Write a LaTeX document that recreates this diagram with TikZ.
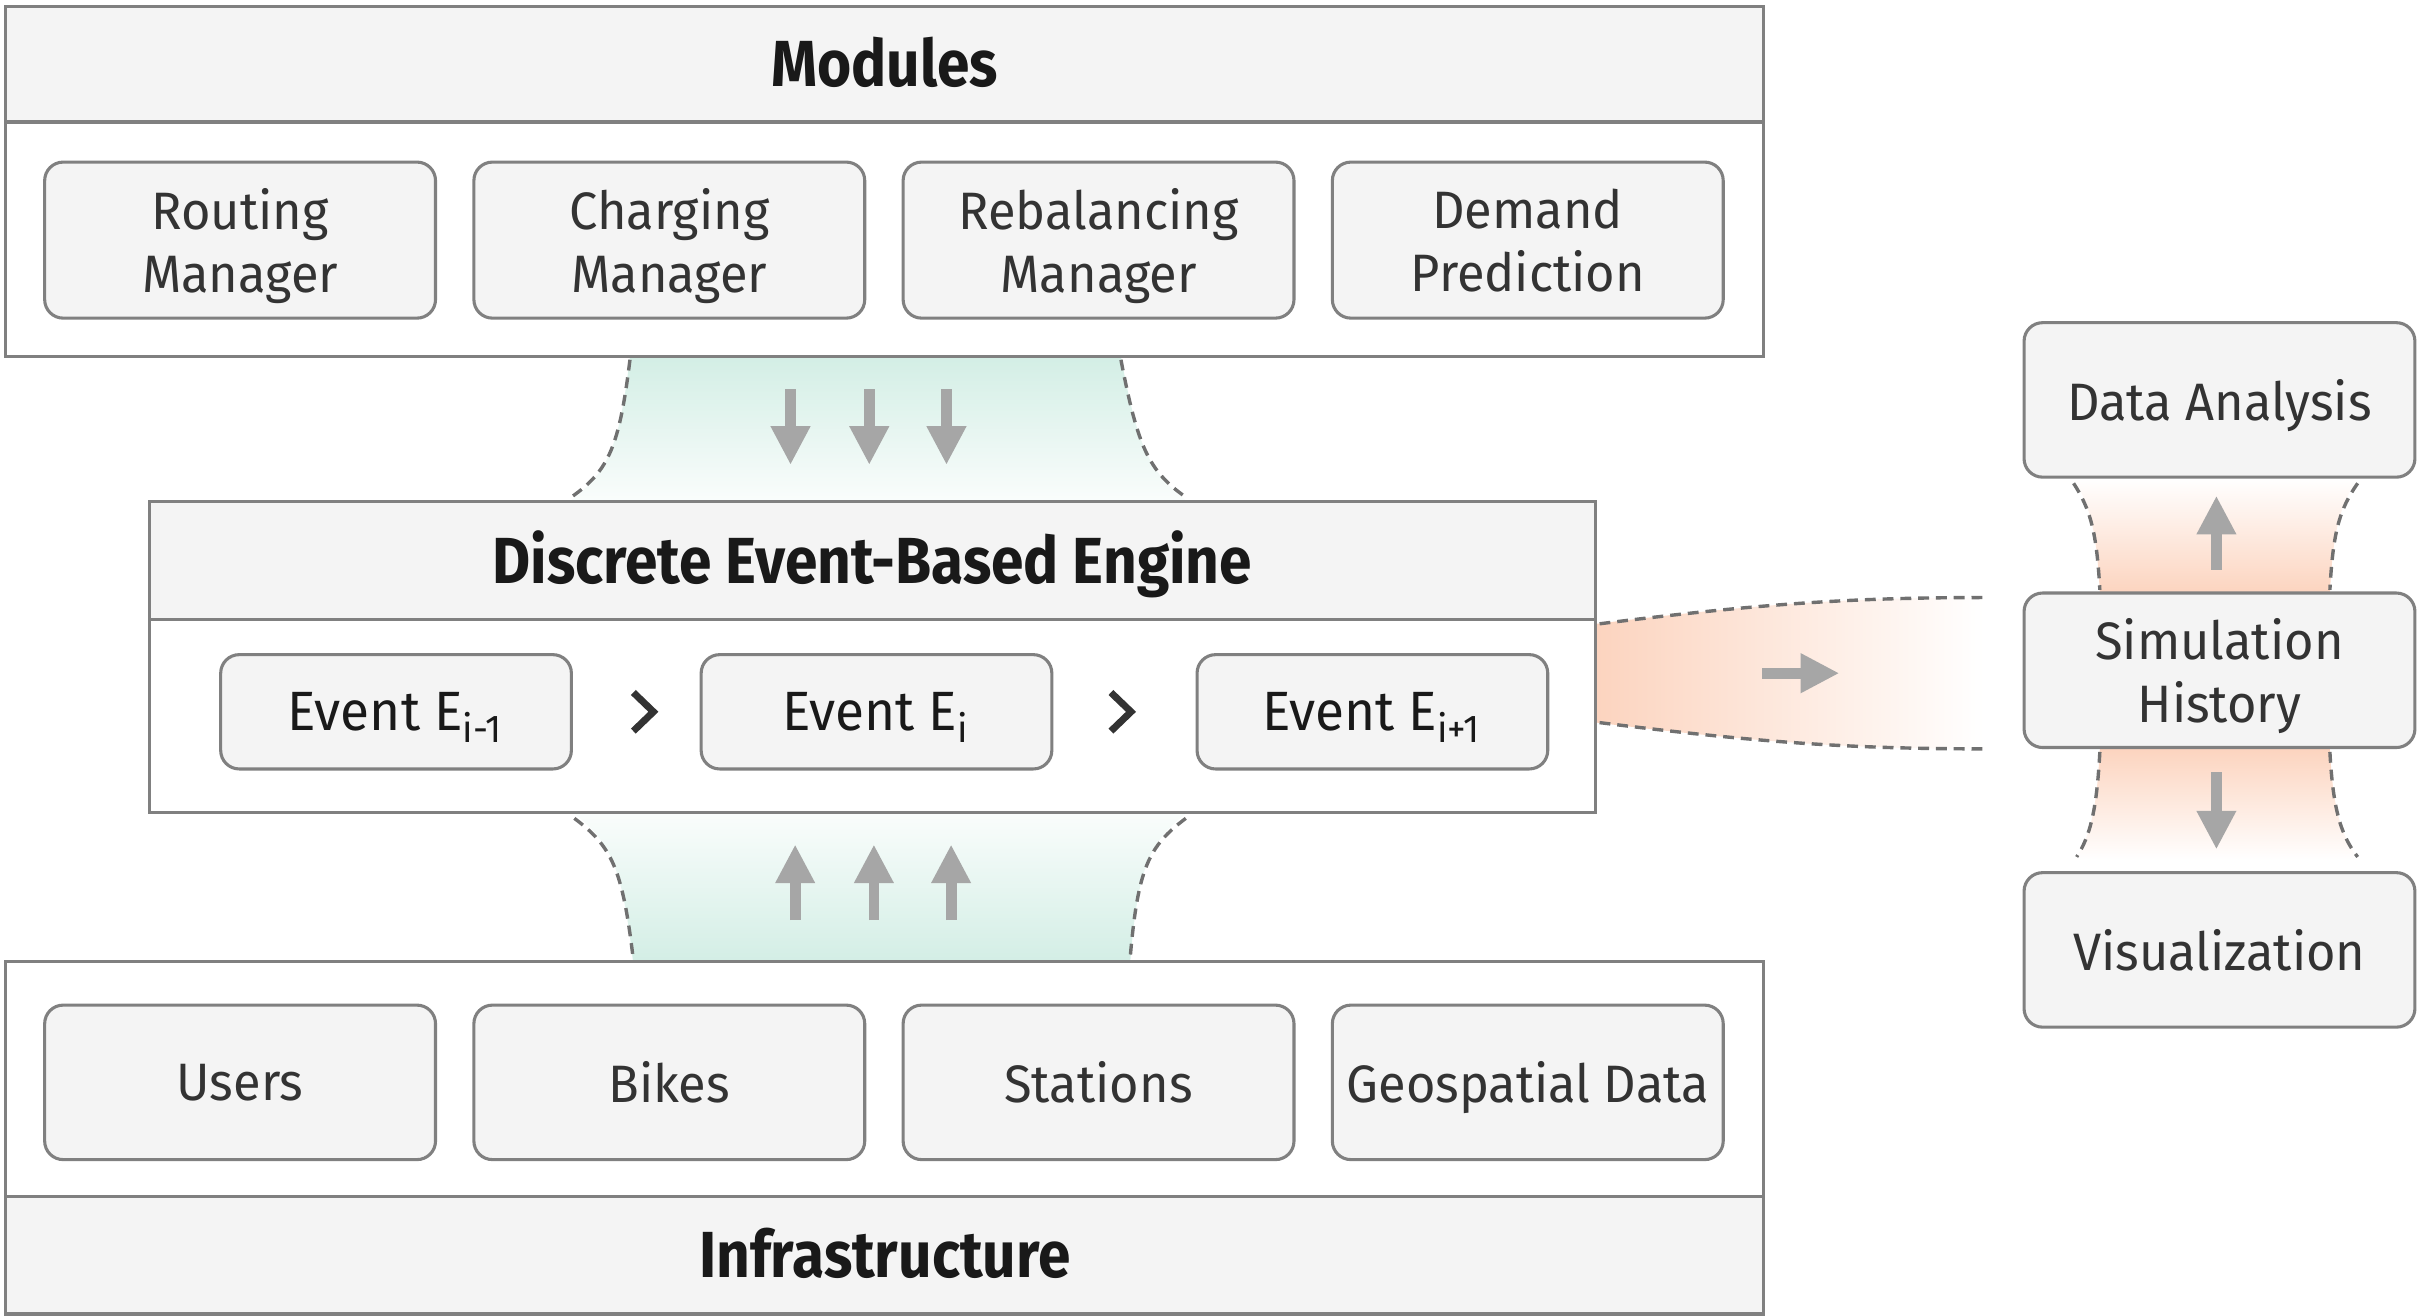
\documentclass[tikz,border=0pt]{standalone}
\usepackage{fontspec}
\setmainfont{Fira Sans}[FakeStretch=0.96]
\newfontfamily\headfont{Fira Sans}[FakeStretch=0.9]
\usetikzlibrary{positioning,calc,arrows.meta}
\definecolor{boxfill}{HTML}{F4F4F4}
\definecolor{linegray}{HTML}{808080}
\definecolor{textgray}{HTML}{333333}
\definecolor{arrowgray}{HTML}{A6A6A6}
\definecolor{dashgray}{HTML}{707070}
\definecolor{mint}{HTML}{D3EEE5}
\definecolor{peach}{HTML}{FCD4BF}
\newcommand\nodesc[1]{\raisebox{0pt}[\height][0pt]{#1}}
\tikzset{
    layer/.style={draw=linegray, line width=0.02cm, fill=white, inner sep=0pt},
    band/.style={draw=linegray, line width=0.02cm, fill=boxfill, minimum height=0.75cm,
        inner sep=0pt, text height=8.3pt, text depth=0pt, text=black!90,
        font=\headfont\bfseries\fontsize{12}{14}\selectfont},
    unit/.style={draw=linegray, line width=0.02cm, fill=boxfill, rounded corners=0.12cm,
        minimum width=2.53cm, minimum height=1.01cm, inner xsep=2pt, align=center, text=textgray,
        font=\fontsize{9.7}{11.6}\selectfont},
    event/.style={unit, minimum width=2.27cm, minimum height=0.74cm, text=black!90,
        font=\fontsize{10.2}{12}\selectfont},
    flow/.style={draw=arrowgray, line width=0.07cm, -{Triangle[width=0.24cm, length=0.25cm]}},
    seam/.style={draw=dashgray, line width=0.022cm, dash pattern=on 0.07cm off 0.045cm},
    chev/.style={draw=textgray, line width=0.045cm, line join=miter}
}
\begin{document}
\begin{tikzpicture}[x=0.01cm, y=-0.01cm]
    \useasboundingbox (0,0) rectangle (1568,852.3);

    % funnels between the layers
    \shade[top color=mint, bottom color=mint!12] (408,231) .. controls (401,290) and (394,305) .. (370,324)
        -- (768,324) .. controls (744,305) and (737,290) .. (726,231) -- cycle;
    \draw[seam] (408,233) .. controls (401,290) and (394,305) .. (370,322);
    \draw[seam] (726,233) .. controls (737,290) and (744,305) .. (768,322);

    \shade[top color=mint!12, bottom color=mint] (372,527) .. controls (396,546) and (403,562) .. (410,623)
        -- (732,623) .. controls (737,562) and (744,546) .. (768,527) -- cycle;
    \draw[seam] (372,530) .. controls (396,548) and (403,562) .. (410,620);
    \draw[seam] (768,530) .. controls (744,548) and (737,562) .. (732,620);

    \shade[left color=peach, right color=white] (1034,404) .. controls (1140,391) and (1200,387) .. (1285,387)
        -- (1285,485) .. controls (1200,485) and (1140,481) .. (1034,468) -- cycle;
    \draw[seam] (1036,404) .. controls (1140,391) and (1200,387) .. (1285,387);
    \draw[seam] (1036,468) .. controls (1140,481) and (1200,485) .. (1285,485);

    \shade[top color=white, bottom color=peach] (1343,310) .. controls (1354,328) and (1358,345) .. (1360,384)
        -- (1509,384) .. controls (1511,345) and (1515,328) .. (1527,310) -- cycle;
    \draw[seam] (1343,313) .. controls (1354,330) and (1358,345) .. (1360,382);
    \draw[seam] (1527,313) .. controls (1515,330) and (1511,345) .. (1509,382);

    \shade[top color=peach, bottom color=white] (1360,485) .. controls (1358,524) and (1354,541) .. (1344,557)
        -- (1528,557) .. controls (1516,541) and (1511,524) .. (1509,485) -- cycle;
    \draw[seam] (1360,487) .. controls (1358,524) and (1354,541) .. (1345,555);
    \draw[seam] (1509,487) .. controls (1511,524) and (1516,541) .. (1527,555);

    % layers
    \node[layer, minimum width=11.38cm, minimum height=2.27cm] (modules) at (573,117.5) {};
    \node[band, minimum width=11.38cm] (modtitle) at (573,41.5) {Modules};
    \foreach \upper/\lower [count=\i] in {Routing/Manager,Charging/Manager,Rebalancing/Manager,Demand/Prediction}
        \node[unit] (mod\i) at ({155.5+278*(\i-1)},155.5) {\upper\\\nodesc{\lower}};

    \node[layer, minimum width=9.36cm, minimum height=2.01cm] (engine) at (565,425.5) {};
    \node[band, minimum width=9.36cm, minimum height=0.76cm] (enginetitle) at (565,363) {Discrete Event-Based Engine};
    \node[event] (ev1) at (256.5,461) {\nodesc{Event E\textsubscript{i-1}}};
    \node[event, right=0.82cm of ev1] (ev2) {\nodesc{Event E\textsubscript{i}}};
    \node[event, right=0.92cm of ev2] (ev3) {\nodesc{Event E\textsubscript{i+1}}};
    \foreach \a/\b/\r in {ev1/ev2/0.55,ev2/ev3/0.47}
        \draw[chev] ($(\a.east)!\r!(\b.west)+(-6,-12.5)$) -- ++(13,12.5) -- ++(-13,12.5);

    \node[layer, minimum width=11.38cm, minimum height=2.28cm] (infra) at (573,737) {};
    \node[band, minimum width=11.38cm, minimum height=0.76cm] (infratitle) at (573,813) {Infrastructure};
    \foreach \txt [count=\i] in {Users,Bikes,Stations,Geospatial Data}
        \node[unit, minimum height=1.0cm] (inf\i) at ({155.5+278*(\i-1)},701) {\nodesc{\txt}};

    % outputs
    \node[unit, minimum height=1.0cm] (analysis) at (1437.5,259) {\nodesc{Data Analysis}};
    \node[unit, minimum height=1.0cm, below=0.73cm of analysis] (history) {Simulation\\\nodesc{History}};
    \node[unit, minimum height=1.0cm, below=0.79cm of history] (visual) {\nodesc{Visualization}};

    % flows
    \foreach \dx in {-61,-10,40}
        \draw[flow] ($(modules.south)+(\dx,20)$) -- ($(modules.south)+(\dx,69)$);
    \foreach \dx in {-58,-7,43}
        \draw[flow] ($(infra.north)+(\dx,-26)$) -- ($(infra.north)+(\dx,-75)$);
    \draw[flow] ($(engine.east)+(107,10.5)$) -- ($(engine.east)+(157,10.5)$);
    \draw[flow] ($(history.north)+(-2,-14)$) -- ($(history.north)+(-2,-62)$);
    \draw[flow] ($(history.south)+(-2,15)$) -- ($(history.south)+(-2,65)$);

\end{tikzpicture}
\end{document}
